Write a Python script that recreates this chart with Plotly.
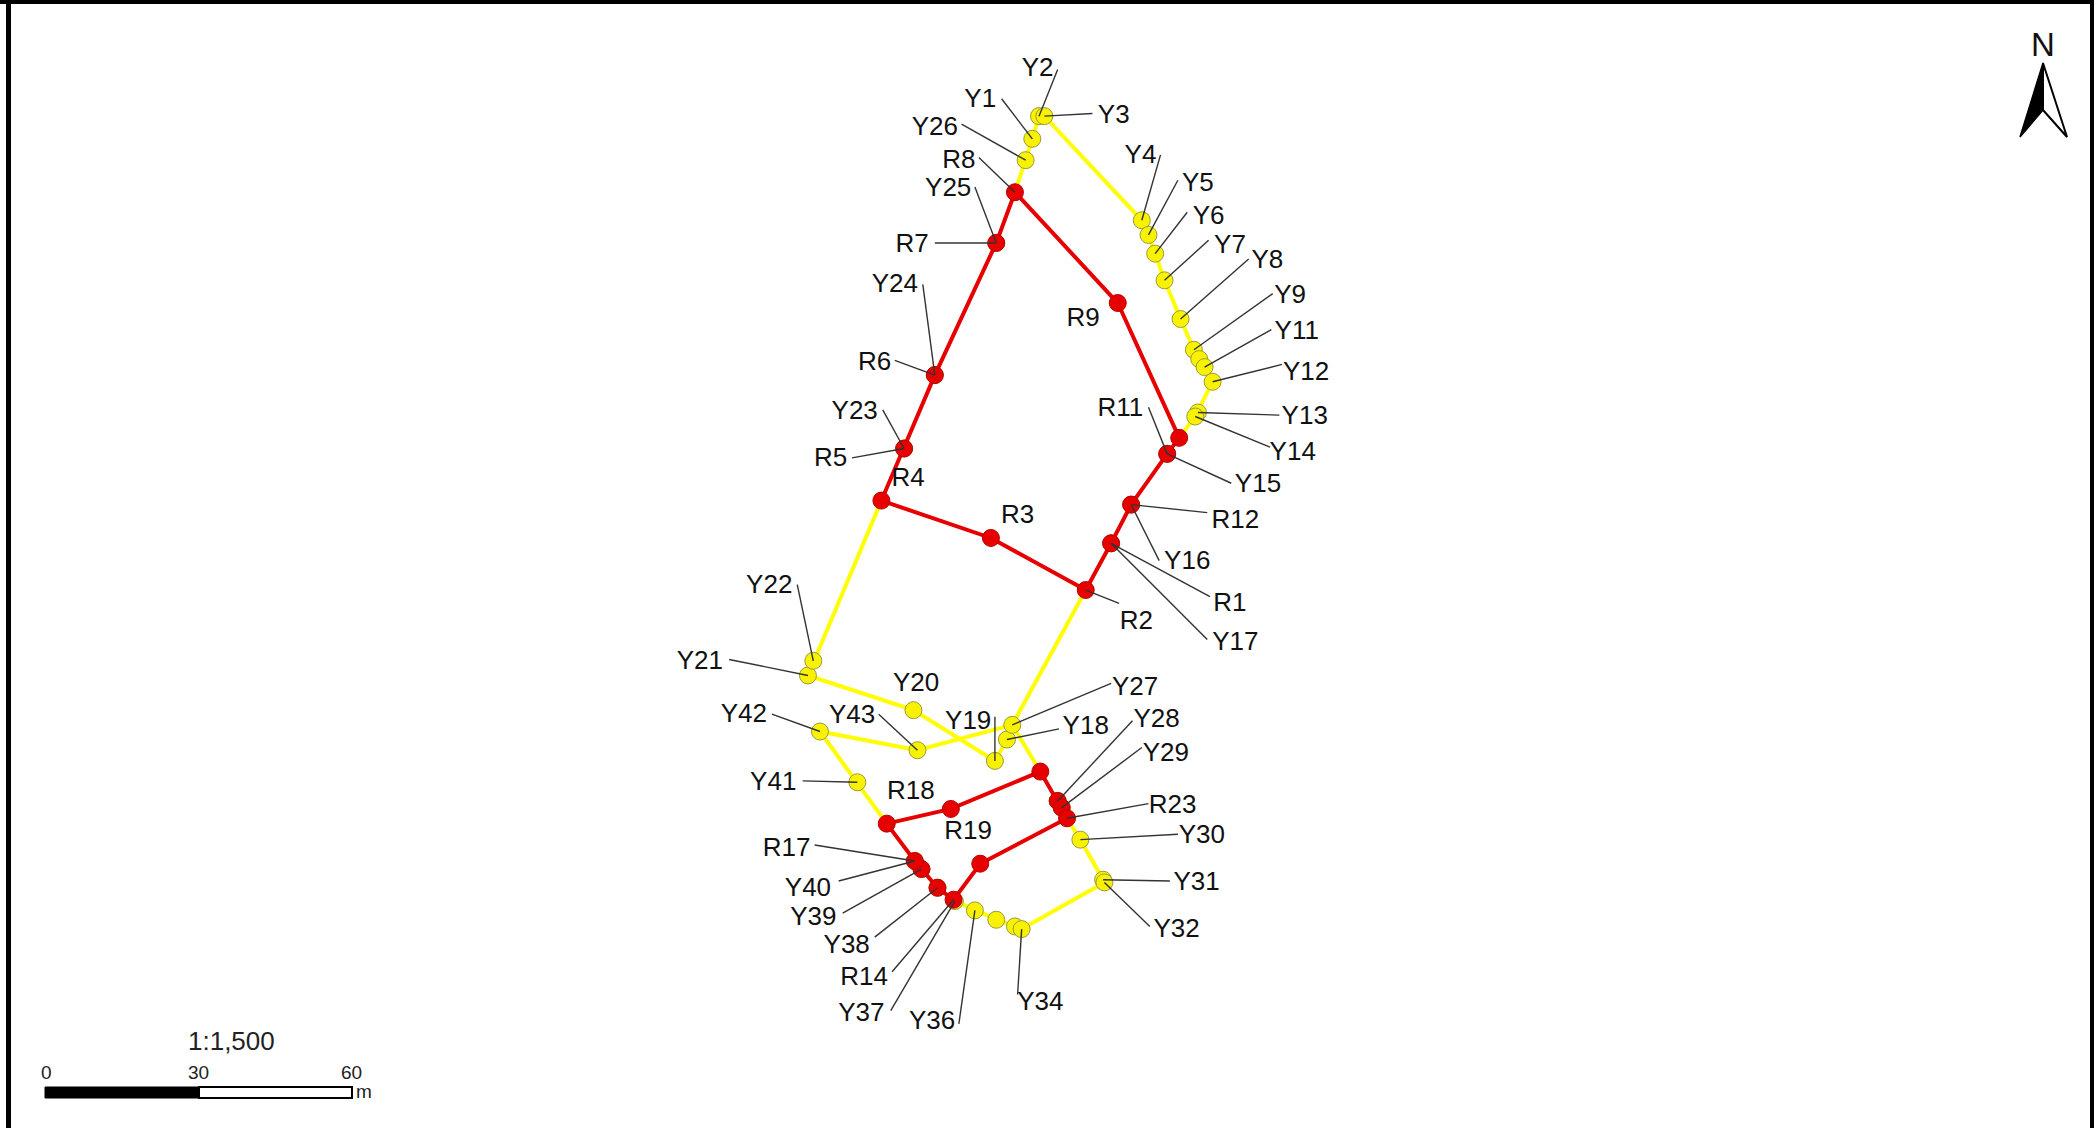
import plotly.graph_objects as go

# Map coordinates (survey-sheet units, origin top-left)
yellow_names = ["Y1","Y2","Y3","Y4","Y5","Y6","Y7","Y8","Y9","Y10","Y11","Y12","Y13","Y14","Y15","Y16","Y17","Y18","Y19","Y20","Y21","Y22","Y23","Y24","Y25","Y26","Y27","Y28","Y29","Y30","Y31","Y32","Y33","Y34","Y35","Y36","Y37","Y38","Y39","Y40","Y41","Y42","Y43"]
yellow_x = [773,778,782,855,860,865,872,884,894,898,902,908,897,895,874,847,832,754,745,684,605,609,677,700,746,768,758,792,795,809,826,827,760,765,746,730,715,702,690,685,642,614,687]
yellow_y = [104,87,87,165,176,190,210,239,262,269,275,286,309,312,340,378,407,554,570,532,506,495,336,281,182,120,543,600,605,629,659,661,694,696,689,682,675,665,651,645,586,548,562]

red_names = ["R1","R2","R3","R4","R5","R6","R7","R8","R9","R10","R11","R12","R13","R14","R15","R16","R17","R18","R19","R20","R21","R22","R23"]
red_x = [832,813,742,660,677,700,746,760,837,883,874,847,734,714,702,690,685,664,712,779,792,795,799]
red_y = [407,442,403,375,336,281,182,144,227,328,340,378,647,674,665,651,645,617,606,578,600,605,613]

red_route_a = ["R8","R7","R6","R5","R4","R3","R2","R1","R12","R11","R10","R9","R8"]
red_route_b = ["R18","R19","R20","R21","R22","R23","R13","R14","R15","R16","R17","R18"]
yellow_route_a = ["R8","Y26","Y1","Y2","Y3","Y4","Y5","Y6","Y7","Y8","Y9","Y10","Y11","Y12","Y13","Y14","R10"]
yellow_route_b = ["R4","Y22","Y21","Y20","Y19","Y18","Y27","R2"]
yellow_route_c = ["Y27","R20"]
yellow_route_d = ["Y27","Y43","Y42","Y41","R18"]
yellow_route_e = ["R23","Y30","Y31","Y32","Y34","Y33","Y35","Y36","R14"]

label_text = ["Y2","Y1","Y3","Y26","R8","Y25","R7","Y24","R6","Y23","R5","R4","R3","R9","R11","Y15","R12","Y16","R1","Y17","R2","Y4","Y5","Y6","Y7","Y8","Y9","Y11","Y12","Y13","Y14","Y22","Y21","Y20","Y43","Y42","Y19","Y18","Y27","Y28","Y29","R23","Y30","Y31","Y32","Y41","R18","R19","R17","Y40","Y39","Y38","R14","Y37","Y36","Y34"]
label_x = [777,734,834,700,718,710,683,670,655,640,622,680,762,811,839,942,925,889,921,925,851,854,897,905,921,949,966,971,978,977,968,576,524,686,638,557,725,813,850,866,873,878,900,896,881,579,682,725,589,605,609,634,647,645,698,779]
label_y = [52,75,87,96,121,142,184,214,272,309,344,359,387,239,307,364,391,421,453,482,466,117,138,163,185,196,222,249,280,313,340,439,496,513,537,536,541,545,516,540,565,604,627,662,697,587,594,624,636,666,688,709,733,760,766,752]

leader_start_x = [792,750,818,720,733,730,700,691,670,661,638,860,922,904,868,906,904,838,869,882,889,905,935,953,952,960,958,951,597,546,658,578,745,793,832,848,855,860,882,876,861,601,610,628,631,655,668,667,718,762]
leader_start_y = [52,74,85,93,118,140,182,213,270,307,343,305,362,384,420,447,479,452,116,135,159,180,194,220,247,273,311,335,438,494,535,535,537,546,512,540,560,602,625,660,694,585,633,660,684,702,728,757,767,745]
leader_target = ["Y2","Y1","Y3","Y26","R8","Y25","R7","Y24","R6","Y23","R5","R11","Y15","R12","Y16","R1","Y17","R2","Y4","Y5","Y6","Y7","Y8","Y9","Y11","Y12","Y13","Y14","Y22","Y21","Y43","Y42","Y19","Y18","Y27","Y28","Y29","R23","Y30","Y31","Y32","Y41","R17","Y40","Y39","Y38","R14","Y37","Y36","Y34"]

scale_ticks = ["0", "30", "60"]
scale_title = "1:1,500"
scale_unit = "m"

W, H = 2094, 1128
pos = {n: (x, y) for n, x, y in zip(yellow_names, yellow_x, yellow_y)}
red_pos = {n: (x, y) for n, x, y in zip(red_names, red_x, red_y)}
pos.update(red_pos)


def route_xy(routes):
    xs, ys = [], []
    for r in routes:
        for n in r:
            xs.append(pos[n][0])
            ys.append(pos[n][1])
        xs.append(None)
        ys.append(None)
    return xs, ys


fig = go.Figure()

yx, yy = route_xy([yellow_route_a, yellow_route_b, yellow_route_c, yellow_route_d, yellow_route_e])
fig.add_trace(go.Scatter(x=yx, y=yy, mode="lines", line=dict(color="#FFFF00", width=4), hoverinfo="skip"))
fig.add_trace(go.Scatter(x=yellow_x, y=yellow_y, mode="markers", text=yellow_names,
                         marker=dict(size=17, color="#F8F200", line=dict(color="#9A9A40", width=1))))

rx, ry = route_xy([red_route_a, red_route_b])
fig.add_trace(go.Scatter(x=rx, y=ry, mode="lines", line=dict(color="#E60000", width=4), hoverinfo="skip"))
fig.add_trace(go.Scatter(x=red_x, y=red_y, mode="markers", text=red_names,
                         marker=dict(size=17, color="#E60000", line=dict(color="#B80000", width=1))))

lx, ly = [], []
for sx, sy, t in zip(leader_start_x, leader_start_y, leader_target):
    lx += [sx, pos[t][0], None]
    ly += [sy, pos[t][1], None]
fig.add_trace(go.Scatter(x=lx, y=ly, mode="lines", line=dict(color="#333333", width=1.4), hoverinfo="skip"))

fig.add_trace(go.Scatter(x=label_x, y=label_y, mode="text", text=label_text, textposition="middle center",
                         textfont=dict(family="Liberation Sans", size=26, color="#111111"), hoverinfo="skip"))


def px(x):
    return x / W


def py(y):
    return 1 - y / H


def path(points):
    return "M " + " L ".join(f"{px(a):.5f},{py(b):.5f}" for a, b in points) + " Z"


shapes = [
    # page frame
    dict(type="rect", xref="paper", yref="paper", x0=px(6), x1=px(11), y0=0, y1=1, fillcolor="#000", line_width=0),
    dict(type="rect", xref="paper", yref="paper", x0=px(0), x1=1, y0=py(4), y1=1, fillcolor="#000", line_width=0),
    dict(type="rect", xref="paper", yref="paper", x0=px(2090), x1=1, y0=0, y1=1, fillcolor="#000", line_width=0),
    # scale bar
    dict(type="rect", xref="paper", yref="paper", x0=px(45), x1=px(199), y0=py(1098), y1=py(1087), fillcolor="#000", line=dict(color="#000", width=1)),
    dict(type="rect", xref="paper", yref="paper", x0=px(199), x1=px(352), y0=py(1098), y1=py(1087), fillcolor="#fff", line=dict(color="#000", width=2)),
    # north arrow
    dict(type="path", xref="paper", yref="paper", path=path([(2043, 63), (2020, 137), (2043, 110)]), fillcolor="#000", line=dict(color="#000", width=1.5)),
    dict(type="path", xref="paper", yref="paper", path=path([(2043, 63), (2067, 137), (2043, 110)]), fillcolor="#fff", line=dict(color="#000", width=2)),
]

ann = []


def note(x, y, text, size):
    ann.append(dict(xref="paper", yref="paper", x=px(x), y=py(y), text=text, showarrow=False,
                    xanchor="center", yanchor="middle",
                    font=dict(family="Liberation Sans", size=size, color="#222222")))


note(231, 1041, scale_title, 26)
note(46, 1072, scale_ticks[0], 19)
note(198, 1072, scale_ticks[1], 19)
note(351, 1072, scale_ticks[2], 19)
note(364, 1091, scale_unit, 19)
ann.append(dict(xref="paper", yref="paper", x=px(2043), y=py(45), text="N", showarrow=False,
                xanchor="center", yanchor="middle", font=dict(family="Liberation Sans", size=33, color="#111111")))

fig.update_layout(
    width=W, height=H, margin=dict(l=0, r=0, t=0, b=0),
    paper_bgcolor="#ffffff", plot_bgcolor="#ffffff", showlegend=False,
    xaxis=dict(range=[0, 1568], visible=False, fixedrange=True),
    yaxis=dict(range=[845, 0], visible=False, fixedrange=True),
    shapes=shapes, annotations=ann,
)

fig.write_html("out.html", config={"displayModeBar": False},
               post_script="document.body.style.margin='0';document.body.style.overflow='hidden';")
